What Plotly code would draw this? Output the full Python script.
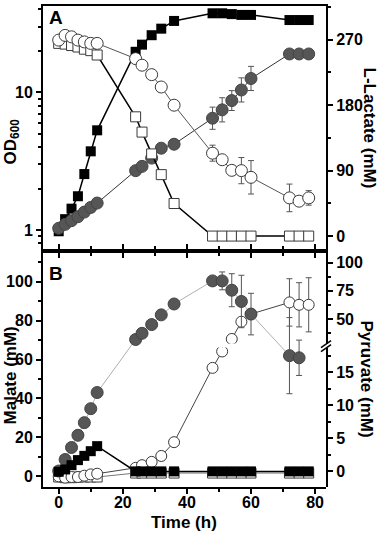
import plotly.graph_objects as go

# ---------------- data ----------------
time_h = [0, 2, 4, 6, 8, 10, 12, 24, 26, 29, 32, 36, 48, 51, 54, 57, 60, 72, 75, 78]

# Panel A: OD600 (left, log) and L-lactate (right)
od_strain1 = [0.98, 1.2, 1.43, 1.76, 2.55, 3.73, 5.3, 19.7, 22.2, 26.0, 29.0, 33.0,
              37.5, 37.5, 37.0, 36.5, 36.5, 33.5, 33.5, 33.5]
od_strain2 = [1.03, 1.1, 1.17, 1.25, 1.35, 1.46, 1.57, 2.7, 2.9, 3.33, 3.93, 4.2,
              6.49, 7.46, 8.71, 10.4, 12.6, 19.0, 19.0, 19.0]
od_strain2_err_up = [0, 0, 0, 0, 0, 0, 0, 0, 0, 0, 0, 0, 1.32, 1.68, 1.58, 2.34, 2.84, 0, 0, 0]
od_strain2_err_dn = [0, 0, 0, 0, 0, 0, 0, 0, 0, 0, 0, 0, 1.10, 1.36, 1.33, 1.89, 2.29, 0, 0, 0]

lac_strain1 = [265, 264, 262, 260, 257, 255, 249, 164, 143, 113, 84.5, 44.8,
               0, 0, 0, 0, 0, 0, 0, 0]
lac_strain1_err = [3, 3, 3, 3, 3, 3, 4, 4, 5, 4, 5, 6, 0, 0, 0, 0, 0, 0, 0, 0]
lac_strain2 = [269.5, 276, 274, 269.5, 267, 265, 265, 244, 235, 222, 205, 180,
               114, 105, 90.4, 90, 80.8, 52.5, 48, 52.5]
lac_strain2_err = [5, 5, 5, 5, 5, 5, 5, 4, 4, 5, 5, 5, 11, 3, 5, 18, 23, 19, 4, 10]

# Panel B: malate (left) and pyruvate (right, broken axis)
mal_strain1 = [2.2, 3.4, 5.6, 8.2, 10.4, 12.8, 15.4, 2.4, 2.4, 2.4, 2.4, 2.4,
               2.4, 2.4, 2.4, 2.4, 2.4, 2.4, 2.4, 2.4]
mal_strain2 = [2.6, 8.5, 14.7, 21, 27.5, 34.7, 43, 70.3, 73.5, 78, 83, 88.6,
               100.5, 100.5, 95.7, 89.9, 83.4, 62, 60.9, None]
mal_strain2_err = [0, 0, 0, 0, 0, 0, 0, 0, 0, 0, 0, 0, 1, 4.6, 8.5, 13.5, 10.7, 19.6, 9.1, 0]

pyr_strain1 = [-0.9, -1.0, -1.0, -0.9, -0.9, -0.9, -0.9, -0.3, -0.3, -0.3, -0.3, -0.3,
               -0.3, -0.3, -0.3, -0.3, -0.3, -0.3, -0.3, -0.3]
pyr_strain2 = [-0.8, -1.0, -0.9, -0.9, -0.7, -0.5, -0.4, 0.5, 0.9, 1.4, 2.3, 4.4,
               15.7, 18.2, 32.3, 47.6, 54.4, 64.7, 62.6, 62.6]
pyr_strain2_err = [0.4, 0.4, 0.4, 0.5, 0.5, 0.6, 0.6, 0.3, 0.5, 0.6, 0.7, 0.4,
                   0.5, 0.4, 2.4, 0, 0, 21, 19.6, 24]

x_ticks = [0, 20, 40, 60, 80]
x_minor = [10, 30, 50, 70]

# ---------------- styling ----------------
FONT = "Liberation Sans, Arial, sans-serif"
tickfont = dict(family=FONT, size=16, color="black", weight="bold")
DARK = "#565656"

def open_marker(symbol, size):
    return dict(symbol=symbol, size=size, color="white", line=dict(color="#3a3a3a", width=1))

def err(arr, arrminus=None, color="#555555"):
    d = dict(type="data", array=arr, visible=True, color=color, thickness=1, width=3)
    if arrminus is not None:
        d["symmetric"] = False
        d["arrayminus"] = arrminus
    return d

fig = go.Figure()

# ---- Panel A ----
fig.add_trace(go.Scatter(x=time_h, y=od_strain1, xaxis="x", yaxis="y", mode="lines+markers",
                         line=dict(color="black", width=1.5),
                         marker=dict(symbol="square", size=10, color="black")))
fig.add_trace(go.Scatter(x=time_h, y=od_strain2, xaxis="x", yaxis="y", mode="lines+markers",
                         line=dict(color="#333333", width=1),
                         marker=dict(symbol="circle", size=12, color=DARK, line=dict(color="#444", width=1)),
                         error_y=err(od_strain2_err_up, od_strain2_err_dn)))
fig.add_trace(go.Scatter(x=time_h, y=lac_strain1, xaxis="x", yaxis="y2", mode="lines+markers",
                         line=dict(color="black", width=1.5),
                         marker=open_marker("square", 10),
                         error_y=err(lac_strain1_err, color="#333")))
fig.add_trace(go.Scatter(x=time_h, y=lac_strain2, xaxis="x", yaxis="y2", mode="lines+markers",
                         line=dict(color="#555555", width=1),
                         marker=open_marker("circle", 12),
                         error_y=err(lac_strain2_err)))

# ---- Panel B ----
# pyruvate on broken axis: lower (y3) and upper (y4) segments
fig.add_trace(go.Scatter(x=time_h, y=pyr_strain1, xaxis="x2", yaxis="y3", mode="lines+markers",
                         line=dict(color="#777777", width=1),
                         marker=open_marker("square", 10)))
for ax in ("y3", "y4"):
    fig.add_trace(go.Scatter(x=time_h, y=pyr_strain2, xaxis="x2", yaxis=ax, mode="lines+markers",
                             line=dict(color="#444444", width=1),
                             marker=open_marker("circle", 11),
                             error_y=err(pyr_strain2_err), cliponaxis=True))
# malate (y5, drawn on top)
fig.add_trace(go.Scatter(x=time_h, y=mal_strain2, xaxis="x2", yaxis="y5", mode="lines+markers",
                         line=dict(color="#b0b0b0", width=1),
                         marker=dict(symbol="circle", size=12, color=DARK, line=dict(color="#444", width=1)),
                         error_y=err(mal_strain2_err)))
fig.add_trace(go.Scatter(x=time_h, y=mal_strain1, xaxis="x2", yaxis="y5", mode="lines+markers",
                         line=dict(color="black", width=1.5),
                         marker=dict(symbol="square", size=10, color="black")))

# ---------------- layout ----------------
# plot area: x 43..326 px, y 4..487 px
def py(ypx):
    return (487 - ypx) / 483.0

def px(xpx):
    return (xpx - 43) / 283.0

axis_common = dict(showline=True, linecolor="black", linewidth=2, showgrid=False, zeroline=False,
                   ticks="outside", tickwidth=1.5, ticklen=5, tickcolor="black", tickfont=tickfont)

split = py(250)

fig.update_layout(
    width=383, height=535,
    margin=dict(l=43, r=57, t=4, b=48),
    plot_bgcolor="rgba(0,0,0,0)", paper_bgcolor="white",
    showlegend=False,
    xaxis=dict(domain=[0, 1], anchor="y", range=[-4.9, 83.4], tickvals=x_ticks,
               showticklabels=False, mirror=True,
               minor=dict(tickvals=x_minor, ticks="outside", ticklen=3, tickcolor="black"),
               **axis_common),
    yaxis=dict(domain=[split, 1], anchor="x", type="log", range=[-0.152, 1.627],
               tickvals=[1, 10], ticktext=["1", "10"],
               minor=dict(tickvals=[0.8, 0.9, 2, 3, 4, 5, 6, 7, 8, 9, 20, 30, 40],
                          ticks="outside", ticklen=3, tickcolor="black"),
               **axis_common),
    yaxis2=dict(overlaying="y", side="right", anchor="x", range=[-20.5, 316.4],
                tickvals=[0, 90, 180, 270],
                minor=dict(tickvals=[45, 135, 225, 315], ticks="outside", ticklen=3, tickcolor="black"),
                **axis_common),
    xaxis2=dict(domain=[0, 1], anchor="y5", range=[-4.9, 83.4], tickvals=x_ticks,
                mirror="ticks", ticklabelstandoff=-5,
                minor=dict(tickvals=x_minor, ticks="outside", ticklen=3, tickcolor="black"),
                **axis_common),
    yaxis5=dict(domain=[0, split], anchor="x2", range=[-5.64, 115.9],
                tickvals=[0, 20, 40, 60, 80, 100],
                minor=dict(tickvals=[10, 30, 50, 70, 90, 110], ticks="outside", ticklen=3, tickcolor="black"),
                **axis_common),
    yaxis4=dict(domain=[py(343), split], anchor="x2", side="right", range=[28.2, 110.3],
                tickvals=[50, 75, 100],
                minor=dict(tickvals=[37.5, 62.5, 87.5], ticks="outside", ticklen=3, tickcolor="black"),
                **axis_common),
    yaxis3=dict(domain=[0, py(347)], anchor="x2", side="right", range=[-2.42, 18.79],
                tickvals=[0, 5, 10, 15],
                minor=dict(tickvals=[2.5, 7.5, 12.5, 17.5], ticks="outside", ticklen=3, tickcolor="black"),
                **axis_common),
)

title_font = dict(family=FONT, size=17, color="black")
ann = [
    dict(text="<b>OD<sub>600</sub></b>", x=px(12), y=py(140), textangle=-90),
    dict(text="<b>Malate (mM)</b>", x=px(10), y=py(375), textangle=-90),
    dict(text="<b>L-Lactate (mM)</b>", x=px(370), y=py(126), textangle=90),
    dict(text="<b>Pyruvate (mM)</b>", x=px(367), y=py(378), textangle=90),
    dict(text="<b>Time (h)</b>", x=px(184), y=py(523), textangle=0),
]
for a in ann:
    fig.add_annotation(xref="paper", yref="paper", showarrow=False, font=title_font,
                       xanchor="center", yanchor="middle", **a)
for lab, ypx in (("A", 16), ("B", 273)):
    fig.add_annotation(xref="paper", yref="paper", showarrow=False, text=f"<b>{lab}</b>",
                       x=px(56), y=py(ypx), xanchor="center", yanchor="middle",
                       font=dict(family=FONT, size=19, color="black"))

# axis break marks on the right pyruvate axis
for dy in (0, 4):
    fig.add_shape(type="line", xref="paper", yref="paper",
                  x0=px(321), y0=py(347 + dy), x1=px(331), y1=py(340 + dy),
                  line=dict(color="black", width=1.5))

fig.write_html("out.html", config={"displayModeBar": False},
               post_script="document.body.style.margin='0px';")
